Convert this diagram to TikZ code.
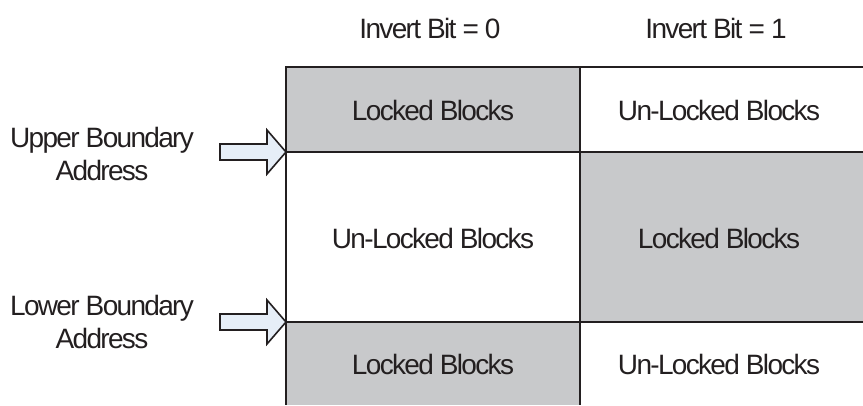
\documentclass[tikz,border=0pt]{standalone}
\usepackage{fontspec}
\setmainfont{Liberation Sans}[LetterSpace=-6]
\definecolor{ink}{HTML}{231F20}
\definecolor{lockgray}{HTML}{C8C9CB}
\definecolor{arrowblue}{HTML}{E6EEF7}
\begin{document}
\begin{tikzpicture}[x=1pt,y=-1pt,
  lbl/.style={font=\fontsize{28}{33}\selectfont, text=ink, inner sep=0pt, align=center},
  grid/.style={draw=ink, line width=2pt},
  locked/.style={fill=lockgray},
  inarrow/.style={draw=ink, line width=1.6pt, fill=arrowblue, line join=miter}]
\useasboundingbox (0,0) rectangle (863,405);
% grey cells
\fill[locked] (286,67) rectangle (580,152);
\fill[locked] (580,152) rectangle (863,322);
\fill[locked] (286,322) rectangle (580,405);
% grid lines
\draw[grid] (286,67) -- (863,67);
\draw[grid] (286,152) -- (863,152);
\draw[grid] (286,322) -- (863,322);
\draw[grid] (286,66) -- (286,405);
\draw[grid] (580,66) -- (580,405);
% headers
\node[lbl] (h0) at (430,28) {Invert Bit = 0};
\node[lbl] (h1) at (716,28) {Invert Bit = 1};
% cells
\node[lbl] (c00) at (433,110) {Locked Blocks};
\node[lbl] (c01) at (719,110) {Un-Locked Blocks};
\node[lbl] (c10) at (433,238) {Un-Locked Blocks};
\node[lbl] (c11) at (719,238) {Locked Blocks};
\node[lbl] (c20) at (433,364) {Locked Blocks};
\node[lbl] (c21) at (719,364) {Un-Locked Blocks};
% side labels
\node[lbl] (up) at (102,154) {Upper Boundary\\Address};
\node[lbl] (lo) at (102,322) {Lower Boundary\\Address};
% arrows
\coordinate (upt) at (286,152);
\coordinate (lot) at (286,322);
\draw[inarrow] (upt) -- ++(-19,-22) -- ++(0,14) -- ++(-47,0) -- ++(0,16) -- ++(47,0) -- ++(0,14) -- cycle;
\draw[inarrow] (lot) -- ++(-19,-22) -- ++(0,14) -- ++(-47,0) -- ++(0,16) -- ++(47,0) -- ++(0,14) -- cycle;
\end{tikzpicture}
\end{document}
